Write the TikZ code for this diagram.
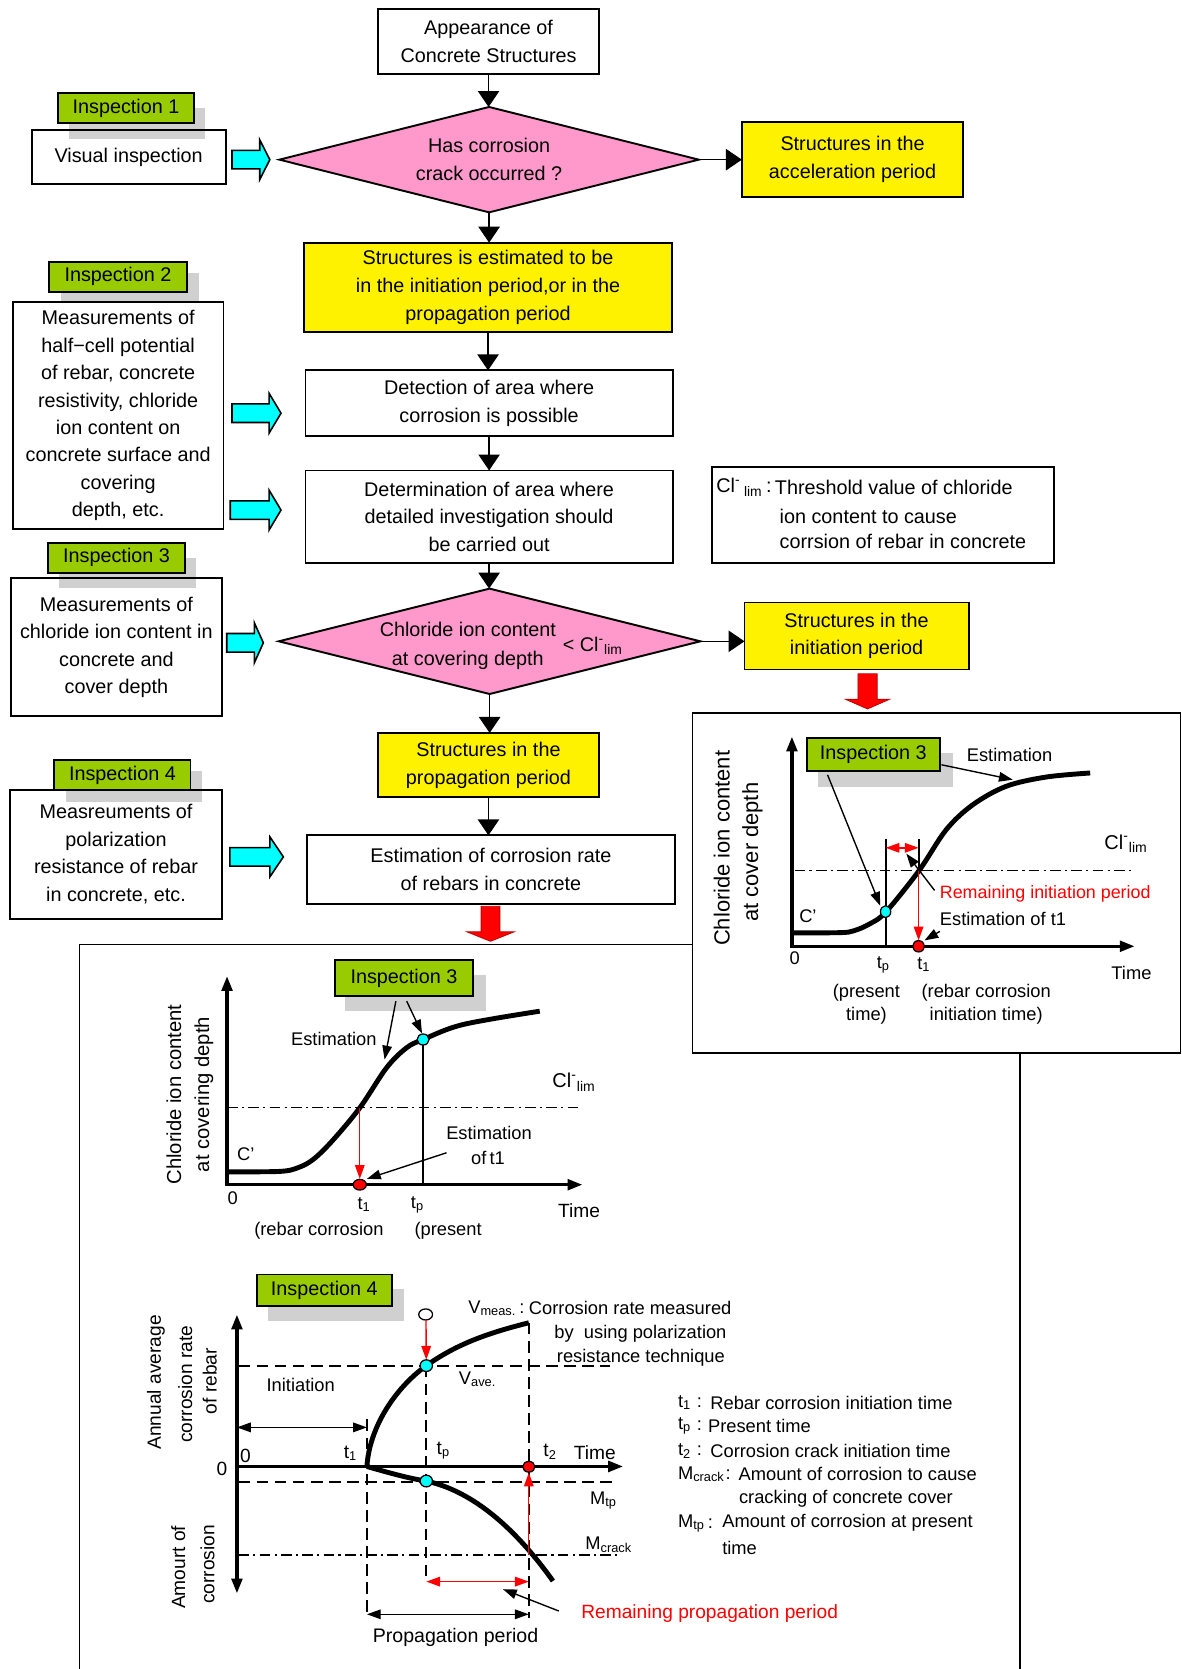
\documentclass[tikz,border=0pt]{standalone}
\usepackage{fontspec}
\setmainfont{Liberation Sans}
\usetikzlibrary{arrows.meta,shapes.geometric}
\newdimen\px
\px=0.5pt
\newcommand{\ffl}{\fontsize{9.3}{13}\selectfont}
\newcommand{\fgr}{\fontsize{8.6}{10.75}\selectfont}
\definecolor{insgreen}{RGB}{153,204,0}
\definecolor{shadowgray}{RGB}{208,208,208}
\definecolor{pinkfill}{RGB}{255,153,204}
\definecolor{cyanfill}{RGB}{0,255,255}
\definecolor{redfill}{RGB}{255,0,0}
\newcommand{\cyanarr}[4]{\draw[cyanblk] (#1,#4-8.7) -- (#2,#4-8.7) -- (#2,#4-18.7) -- (#3,#4) -- (#2,#4+18.7) -- (#2,#4+8.7) -- (#1,#4+8.7) -- cycle;}
\newcommand{\redarr}[6]{\draw[redblk] (#1-#5,#2) -- (#1+#5,#2) -- (#1+#5,#3) -- (#1+#6,#3) -- (#1,#4) -- (#1-#6,#3) -- (#1-#5,#3) -- cycle;}
\tikzset{
 flbox/.style={draw, line width=0.9pt, inner sep=0pt, outer sep=0pt, align=center, font=\ffl},
 ylbox/.style={flbox, fill=yellow},
 dia/.style={diamond, draw, line width=0.9pt, fill=pinkfill, inner sep=0pt, outer sep=0pt, aspect=3.95, align=center, font=\ffl},
 insp/.style={draw, line width=0.9pt, fill=insgreen, inner sep=0pt, outer sep=0pt, font=\ffl},
 shad/.style={fill=shadowgray, inner sep=0pt, outer sep=0pt},
 flowarr/.style={line width=0.75pt, -{Triangle[width=10pt,length=7.5pt]}},
 cyanblk/.style={draw, line width=0.75pt, fill=cyanfill},
 redblk/.style={draw=red!75!black, line width=0.4pt, fill=redfill},
 panel/.style={line width=0.75pt},
 txt/.style={inner sep=0pt, outer sep=0pt, font=\ffl},
 gtxt/.style={inner sep=0pt, outer sep=0pt, font=\fgr},
 gaxis/.style={line width=1.6pt},
 gaxes/.style={gaxis, {Triangle[width=5pt,length=7pt]}-{Triangle[width=5pt,length=7pt]}},
 gaxend/.style={gaxis, -{Triangle[width=5pt,length=7pt]}},
 gcurve/.style={line width=2.3pt},
 vline/.style={line width=1pt},
 ddline/.style={line width=0.7pt, dash pattern=on 5pt off 2pt on 1pt off 2pt},
 dashln/.style={line width=0.8pt, dash pattern=on 5.5pt off 3pt},
 thinarr/.style={line width=0.65pt, -{Triangle[width=4.5pt,length=6.5pt]}},
 thindbl/.style={line width=0.65pt, {Triangle[width=4.5pt,length=6.5pt]}-{Triangle[width=4.5pt,length=6.5pt]}},
 redarrow/.style={thinarr, red},
 reddbl/.style={thindbl, red},
 ptc/.style={fill=cyanfill, draw, line width=0.6pt},
 ptr/.style={fill=redfill, draw, line width=0.6pt},
}
\begin{document}
\begin{tikzpicture}[x=0.5pt,y=-0.5pt]
\useasboundingbox (0,0) rectangle (1110,1568);

% ---------- panels ----------
\draw[panel] (74.6,1570) -- (74.6,887.4) -- (958.5,887.4) -- (958.5,1570);
\draw[panel, fill=white] (650.7,670) rectangle (1109.2,989);

% ---------- flowchart ----------
\node[flbox, minimum width=208\px, minimum height=61\px] (A) at (459,39) {Appearance of\\Concrete Structures};
\node[dia, minimum width=394\px, minimum height=99\px] (D1) at (459.5,150) {Has corrosion\\crack occurred ?};
\node[ylbox, minimum width=208\px, minimum height=70\px] (ACC) at (801,150) {Structures in the\\acceleration period};
\node[ylbox, minimum width=345\px, minimum height=84\px] (B) at (458.5,270) {Structures is estimated to be\\in the initiation period,or in the\\propagation period};
\node[flbox, minimum width=345\px, minimum height=61.5\px] (C) at (459.5,378.7) {Detection of area where\\corrosion is possible};
\node[flbox, minimum width=345\px, minimum height=87\px] (D) at (459.5,485.5) {Determination of area where\\detailed investigation should\\be carried out};
\node[dia, minimum width=396\px, minimum height=99\px] (D2) at (460,602.5) {};
\node[txt] (D2a) at (439.5,591) {Chloride ion content};
\node[txt] (D2b) at (439.5,620) {at covering depth};
\node[txt] (D2c) at (557,607) {< Cl\textsuperscript{-}\textsubscript{lim}};
\node[ylbox, minimum width=210.5\px, minimum height=63\px] (E) at (804.7,597.5) {Structures in the\\initiation period};
\node[ylbox, minimum width=208.3\px, minimum height=60.4\px] (F) at (458.9,718.8) {Structures in the\\propagation period};
\node[flbox, minimum width=345.5\px, minimum height=64.4\px] (G) at (461.2,817) {Estimation of corrosion rate\\of rebars in concrete};

\draw[flowarr] (A.south) -- (A.south |- D1.north);
\draw[flowarr] (D1.east) -- (ACC.west);
\draw[flowarr] (D1.south) -- (D1.south |- B.north);
\draw[flowarr] (B.south) -- (B.south |- C.north);
\draw[flowarr] (C.south) -- (C.south |- D.north);
\draw[flowarr] (D.south) -- (D.south |- D2.north);
\draw[flowarr] (D2.east) -- (D2.east -| E.west);
\draw[flowarr] (D2.south) -- (D2.south |- F.north);
\draw[flowarr] (F.south) -- (F.south |- G.north);

% threshold box
\node[flbox, minimum width=322\px, minimum height=90\px] (CL) at (829.5,483.5) {};
\node[txt, anchor=west] (CLa) at (673,458) {Cl\textsuperscript{-}\,\textsubscript{lim}\,:};
\node[txt, anchor=west] (CLb) at (728,458) {Threshold value of chloride};
\node[txt, anchor=west] (CLc) at (732.5,485.5) {ion content to cause};
\node[txt, anchor=west] (CLd) at (732.5,509) {corrsion of rebar in concrete};

% ---------- left inspection boxes ----------
\node[shad, minimum width=128.3\px, minimum height=30\px] (I1s) at (128.8,116) {};
\node[flbox, minimum width=182\px, minimum height=51\px] (VI) at (120.9,147.5) {Visual inspection};
\node[insp, minimum width=127.6\px, minimum height=28.2\px] (I1) at (118.4,101.7) {Inspection 1};

\node[shad, minimum width=130\px, minimum height=28.5\px] (I2s) at (122,270.3) {};
\node[flbox, minimum width=198\px, minimum height=213\px, font=\fontsize{9.3}{12.9}\selectfont] (M2) at (111,390.5) {Measurements of\\half−cell potential\\of rebar, concrete\\resistivity, chloride\\ion content on\\concrete surface and\\covering\\depth, etc.};
\node[insp, minimum width=129.5\px, minimum height=28\px] (I2) at (110.8,260) {Inspection 2};

\node[shad, minimum width=129\px, minimum height=28\px] (I3s) at (119.5,538) {};
\node[flbox, minimum width=198.5\px, minimum height=130\px, font=\fontsize{9.3}{12.9}\selectfont] (M3) at (109.3,608) {Measurements of\\chloride ion content in\\concrete and\\cover depth};
\node[insp, minimum width=129\px, minimum height=28\px] (I3) at (109.5,524) {Inspection 3};

\node[shad, minimum width=127.5\px, minimum height=29.2\px] (I4s) at (125.8,739.2) {};
\node[flbox, minimum width=199\px, minimum height=121\px, font=\fontsize{9.3}{13}\selectfont] (M4) at (109,802.5) {Measreuments of\\polarization\\resistance of rebar\\in concrete, etc.};
\node[insp, minimum width=128\px, minimum height=28.2\px] (I4) at (115,728.4) {Inspection 4};

\cyanarr{218}{244}{253.5}{150}
\cyanarr{218}{252.8}{264}{388.2}
\cyanarr{216.3}{252.8}{264}{479.2}
\cyanarr{213}{239}{247.4}{603.9}
\cyanarr{216}{253.6}{266.2}{805}

\redarr{815}{633}{657}{666}{9}{20.5}
\redarr{460.8}{851.4}{875.5}{884.3}{8.8}{22}

% ---------- right graph ----------
\node[gtxt, rotate=90, font=\fontsize{10.3}{12}\selectfont] (yR1) at (678,797) {Chloride ion content};
\node[gtxt, rotate=90, font=\fontsize{10.3}{12}\selectfont] (yR2) at (707,800.6) {at cover depth};
\draw[ddline] (746.5,818) -- (1066,818);
\draw[vline] (832,788) -- (832,889);
\draw[vline] (863,788) -- (863,818);
\draw[gaxes] (744,692) -- (744,889) -- (1066,889);
\draw[gcurve] plot[smooth, tension=0.55] coordinates {(744,876.4) (788.8,876.2) (802,874.5) (817,868) (832,857) (863,818.5) (889,779.4) (914,756) (945.3,738.7) (982.9,730) (1024.2,726.2)};
\draw[redarrow] (863,818) -- (863,883.5);
\draw[reddbl] (832,796.5) -- (863,796.5);
\filldraw[ptc] (832,856.5) ellipse [x radius=4.8\px, y radius=5.6\px];
\filldraw[ptr] (863,889) ellipse [x radius=5.6\px, y radius=5.3\px];
\node[shad, minimum width=126.5\px, minimum height=32\px] (R3s) at (831.8,723) {};
\node[insp, minimum width=125\px, minimum height=31\px] (R3) at (820.5,708.5) {Inspection 3};
\node[gtxt] (RE) at (948.5,709) {Estimation};
\draw[thinarr] (884.5,718.5) -- (951.5,732.5);
\draw[thinarr] (777.5,728) -- (827,851);
\node[gtxt, font=\fontsize{9.4}{11}\selectfont] (RCl) at (1058,792.5) {Cl\textsuperscript{-}\textsubscript{lim}};
\draw[thinarr] (878,836.5) -- (851.5,802);
\node[gtxt, anchor=west, red, font=\fontsize{8.4}{10}\selectfont] (RRem) at (883,839.5) {Remaining initiation period};
\node[gtxt, anchor=west] (REt) at (883,863) {Estimation of  t1};
\draw[thinarr] (883,875) -- (868.5,883.5);
\node[gtxt] (RC) at (759,861) {C'};
\node[gtxt] (R0) at (746.5,900.5) {0};
\node[gtxt] (Rtp) at (830,906.5) {t\textsubscript{p}};
\node[gtxt] (Rt1) at (868,906.5) {t\textsubscript{1}};
\node[gtxt] (RTime) at (1063,914) {Time};
\node[gtxt, align=center] (Rpres) at (814,943.3) {(present\\time)};
\node[gtxt, align=center] (Rreb) at (926.5,943.3) {(rebar corrosion\\initiation time)};

% ---------- lower graph 1 ----------
\node[gtxt, rotate=90, font=\fontsize{9.5}{11}\selectfont] (yL1) at (163.4,1028.3) {Chloride ion content};
\node[gtxt, rotate=90, font=\fontsize{9.5}{11}\selectfont] (yL2) at (191.5,1028.3) {at covering depth};
\draw[ddline] (213.3,1040.5) -- (547.2,1040.5);
\draw[vline] (397.5,976.6) -- (397.5,1113);
\draw[gaxes] (213.3,917) -- (213.3,1113) -- (547.2,1113);
\draw[gcurve] plot[smooth, tension=0.55] coordinates {(213.3,1100.9) (262.9,1100.5) (280,1097) (294.2,1089.3) (312,1072) (338,1040.8) (363.1,1003.2) (381.9,984.4) (397.5,976.6) (435.1,962.5) (507.1,950)};
\draw[redarrow] (338,1040.5) -- (338,1107.5);
\filldraw[ptc] (397.5,976.6) ellipse [x radius=5.6\px, y radius=5.2\px];
\filldraw[ptr] (338,1113) ellipse [x radius=6.2\px, y radius=5\px];
\node[shad, minimum width=131.7\px, minimum height=33.2\px] (L3s) at (390.4,932.8) {};
\node[insp, minimum width=129.9\px, minimum height=33.2\px] (L3) at (379.5,918.7) {Inspection 3};
\draw[thinarr] (371.9,940.6) -- (361.3,995.4);
\draw[thinarr] (382.1,940.6) -- (396.5,971);
\node[gtxt] (LE) at (313.6,976) {Estimation};
\node[gtxt, font=\fontsize{9.4}{11}\selectfont] (LCl) at (539.4,1016.7) {Cl\textsuperscript{-}\textsubscript{lim}};
\node[gtxt] (LEt) at (459.4,1064.3) {Estimation};
\node[gtxt] (LEt2) at (458.5,1087.7) {of\,t1};
\draw[thinarr] (419.5,1083) -- (344.7,1107.5);
\node[gtxt] (LC) at (231,1084.6) {C'};
\node[gtxt] (L0) at (218.6,1125.3) {0};
\node[gtxt] (Lt1) at (342.2,1131.6) {t\textsubscript{1}};
\node[gtxt] (Ltp) at (392.3,1131.6) {t\textsubscript{p}};
\node[gtxt, font=\fontsize{9}{11}\selectfont] (LTime) at (544.1,1137.8) {Time};
\node[gtxt] (Lreb) at (299.6,1156.6) {(rebar corrosion};
\node[gtxt] (Lpres) at (421,1156.6) {(present};

% ---------- lower graph 2 ----------
\node[gtxt, rotate=90, font=\fontsize{9}{11}\selectfont] (yA1) at (146.6,1298.7) {Annual average};
\node[gtxt, rotate=90, font=\fontsize{9}{11}\selectfont] (yA2) at (174,1300.6) {corrosion rate};
\node[gtxt, rotate=90, font=\fontsize{9}{11}\selectfont] (yA3) at (197,1297.5) {of rebar};
\node[gtxt, rotate=90, font=\fontsize{9}{11}\selectfont] (yB1) at (167.6,1472.5) {Amourt of};
\node[gtxt, rotate=90, font=\fontsize{9}{11}\selectfont] (yB2) at (195,1469.6) {corrosion};

\draw[dashln] (224,1283.4) -- (573.5,1283.4);
\draw[dashln] (224,1392) -- (580,1392);
\draw[ddline] (224,1461) -- (580,1461);
\draw[dashln] (344.7,1333.5) -- (344.7,1519.6);
\draw[dashln] (400.5,1283) -- (400.5,1485.3);
\draw[dashln] (496.8,1242.7) -- (496.8,1519.6);
\draw[gaxes] (222.6,1235) -- (222.6,1497);
\draw[gaxend] (222.6,1377.7) -- (585.4,1377.7);
\draw[gcurve] (344.7,1377.7) .. controls (347,1342) and (370,1305) .. (400.5,1283) .. controls (430,1262) and (460,1252) .. (496.8,1242.7);
\draw[gcurve] (344.7,1377.7) .. controls (370,1385) and (385,1389) .. (400.5,1391.4) .. controls (440,1400) and (480,1430) .. (519.5,1485.3);
\draw[thindbl] (222.6,1341) -- (344.7,1341);
\draw[thindbl] (344.7,1516.6) -- (496.8,1516.6);
\draw[reddbl] (400.5,1485.9) -- (496.8,1485.9);
\draw[redarrow] (496.8,1461) -- (496.8,1383.5);
\draw[thinarr] (525,1513.5) -- (472.5,1493);
\filldraw[fill=white, draw, line width=0.6pt] (399.9,1234.9) ellipse [x radius=6.5\px, y radius=5.2\px];
\draw[redarrow] (400.2,1240.1) -- (400.5,1277.5);
\filldraw[ptc] (400.5,1283) ellipse [x radius=5.8\px, y radius=5.5\px];
\filldraw[ptc] (400.5,1391.4) ellipse [x radius=5.8\px, y radius=5.5\px];
\filldraw[ptr] (496.8,1378) ellipse [x radius=5.8\px, y radius=5\px];
\node[shad, minimum width=127.7\px, minimum height=29.6\px] (B4s) at (315.6,1226.2) {};
\node[insp, minimum width=126.7\px, minimum height=29.7\px] (B4) at (304.7,1212.2) {Inspection 4};

\node[gtxt, font=\fontsize{9}{11}\selectfont] (Z0a) at (208.5,1380.4) {0};
\node[gtxt, font=\fontsize{9}{11}\selectfont] (Z0b) at (230.7,1368) {0};
\node[gtxt, font=\fontsize{9}{11}\selectfont] (Zt1) at (329.3,1365.5) {t\textsubscript{1}};
\node[gtxt, font=\fontsize{9}{11}\selectfont] (Ztp) at (416.6,1363) {t\textsubscript{p}};
\node[gtxt, font=\fontsize{9}{11}\selectfont] (Zt2) at (516.9,1364) {t\textsubscript{2}};
\node[gtxt, font=\fontsize{9}{11}\selectfont] (ZTime) at (558.8,1364.6) {Time};
\node[gtxt] (ZIni) at (282.5,1301.5) {Initiation};
\node[gtxt] (ZVa) at (448.8,1296) {V\textsubscript{ave.}};
\node[gtxt] (ZMtp) at (567,1410) {M\textsubscript{tp}};
\node[gtxt] (ZMcr) at (572,1451) {M\textsubscript{crack}};
\node[gtxt, anchor=west] (ZVm) at (440,1229) {V\textsubscript{meas.}};
\node[gtxt] (ZVc) at (490.4,1229) {:};
\node[gtxt, anchor=west] (ZVt1) at (496.9,1229) {Corrosion rate measured};
\node[gtxt, anchor=east] (ZVt2) at (682.5,1253) {by\ \ using polarization};
\node[gtxt, anchor=east] (ZVt3) at (681,1276) {resistance technique};

\node[gtxt, font=\fontsize{9.2}{11}\selectfont] (ZProp) at (428,1538) {Propagation period};
\node[gtxt, anchor=west, red, font=\fontsize{9}{11}\selectfont] (ZRem) at (546.2,1516) {Remaining propagation period};

% legend
\node[gtxt, anchor=west] (K1s) at (637,1317.8) {t\textsubscript{1}};
\node[gtxt] (K1c) at (657,1317.8) {:};
\node[gtxt, anchor=west] (K1t) at (667.4,1317.8) {Rebar corrosion initiation time};
\node[gtxt, anchor=west] (K2s) at (637,1339.7) {t\textsubscript{p}};
\node[gtxt] (K2c) at (657,1339.7) {:};
\node[gtxt, anchor=west] (K2t) at (665.2,1339.7) {Present time};
\node[gtxt, anchor=west] (K3s) at (637,1363.2) {t\textsubscript{2}};
\node[gtxt] (K3c) at (657,1363.2) {:};
\node[gtxt, anchor=west] (K3t) at (667.4,1363.2) {Corrosion crack initiation time};
\node[gtxt, anchor=west] (K4s) at (637,1385) {M\textsubscript{crack}};
\node[gtxt] (K4c) at (684,1385) {:};
\node[gtxt, anchor=west] (K4t) at (694,1385) {Amount of corrosion to cause};
\node[gtxt, anchor=west] (K4u) at (694.3,1408) {cracking of concrete cover};
\node[gtxt, anchor=west] (K5s) at (637,1431) {M\textsubscript{tp}};
\node[gtxt] (K5c) at (667.4,1431) {:};
\node[gtxt, anchor=west] (K5t) at (678.6,1431) {Amount of corrosion at present};
\node[gtxt, anchor=west] (K5u) at (678.6,1454.3) {time};
\end{tikzpicture}
\end{document}
